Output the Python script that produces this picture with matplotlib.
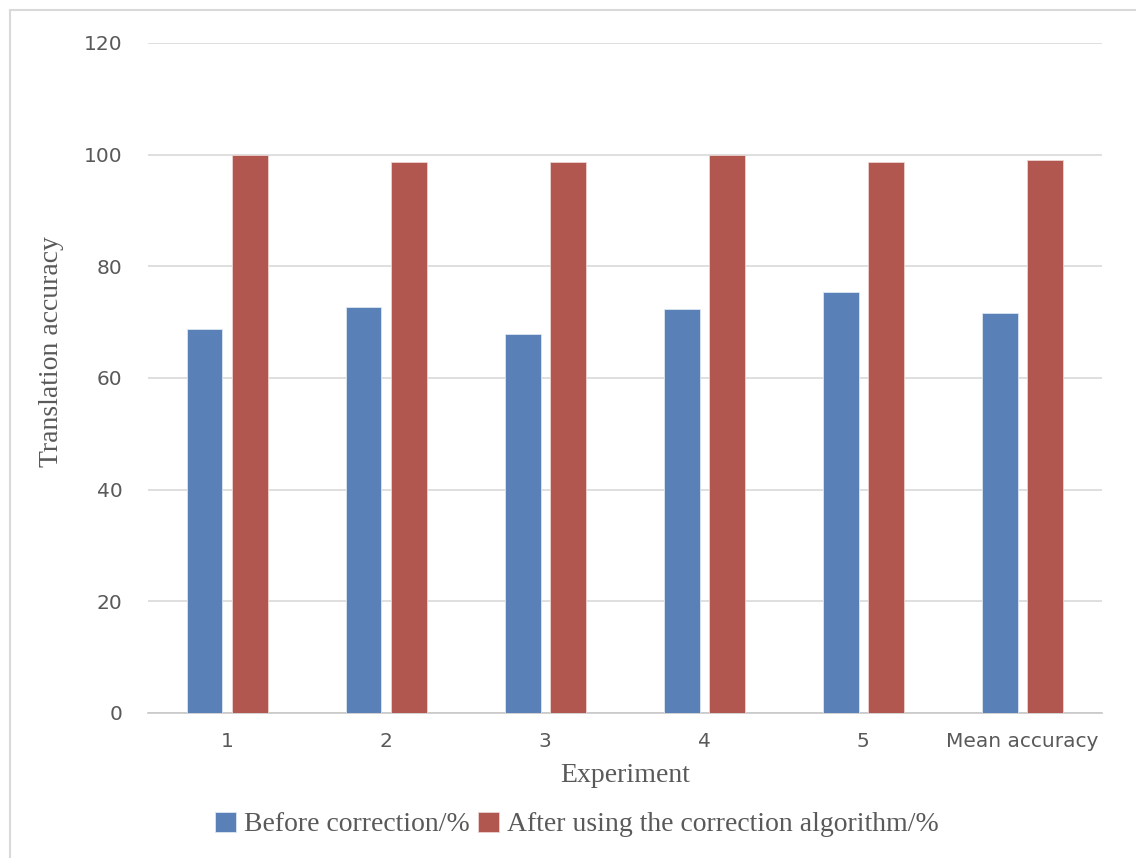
import numpy as np
import matplotlib
matplotlib.use("Agg")
import matplotlib.pyplot as plt
from matplotlib.patches import Rectangle

categories = ["1", "2", "3", "4", "5", "Mean accuracy"]
before = [68.8, 72.7, 67.8, 72.3, 75.4, 71.6]
after = [99.9, 98.6, 98.6, 99.9, 98.6, 99.0]
yticks = [0, 20, 40, 60, 80, 100, 120]

BLUE = "#5A80B8"
RED = "#B2574F"
GRID = "#D9D9D9"
TXT = "#595959"

fig = plt.figure(figsize=(11.36, 8.58), dpi=100)
ax = fig.add_axes([0.130, 0.169, 0.840, 0.781])

x = np.arange(len(categories))
w = 0.225
gap = 0.03
ax.bar(x - w / 2 - gap, before, width=w, color=BLUE, edgecolor="#DDE6F2", linewidth=0.6,
       label="Before correction/%", zorder=3)
ax.bar(x + w / 2 + gap, after, width=w, color=RED, edgecolor="#EBD3D1", linewidth=0.6,
       label="After using the correction algorithm/%", zorder=3)

ax.set_ylim(0, 120)
ax.set_xlim(-0.5, len(categories) - 0.5)
ax.set_yticks(yticks)
ax.set_xticks(x)
ax.set_xticklabels(categories)
ax.yaxis.grid(True, color=GRID, linewidth=1.2, zorder=0)
for s in ["top", "right", "left"]:
    ax.spines[s].set_visible(False)
ax.spines["bottom"].set_color("#C8C8C8")
ax.spines["bottom"].set_linewidth(1.2)
ax.tick_params(length=0, labelsize=14.5, colors=TXT)
ax.tick_params(axis="x", pad=14)
ax.tick_params(axis="y", pad=18)

ax.set_xlabel("Experiment", fontsize=20, family="Liberation Serif", color=TXT, labelpad=8)
ax.set_ylabel("Translation accuracy", fontsize=20, family="Liberation Serif", color=TXT)
ax.yaxis.set_label_coords(-0.088, 0.54)

leg = fig.legend(loc="center", bbox_to_anchor=(0.508, 0.039), ncol=2, frameon=False,
                 prop={"family": "Liberation Serif", "size": 20},
                 handlelength=0.75, handleheight=0.75, handletextpad=0.3, columnspacing=0.3)
for t in leg.get_texts():
    t.set_color(TXT)

fig.patches.append(Rectangle((0.009, -0.01), 1.2, 0.998, transform=fig.transFigure,
                             fill=False, edgecolor="#D9D9D9", linewidth=1.5))

fig.savefig("out.png", dpi=100)
